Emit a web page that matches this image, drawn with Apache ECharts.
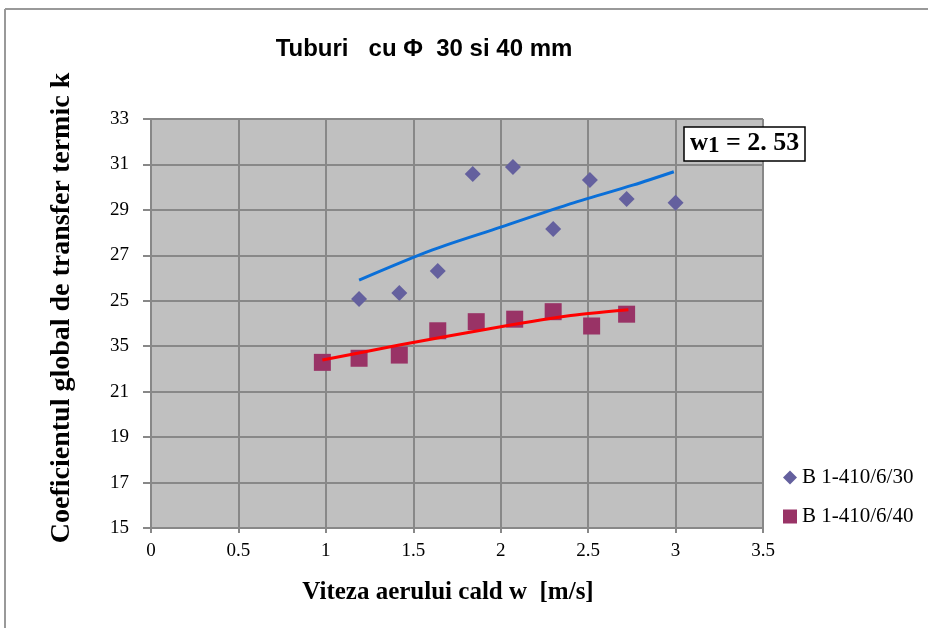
<!DOCTYPE html>
<html>
<head>
<meta charset="utf-8">
<script src="https://cdn.jsdelivr.net/npm/echarts@6/dist/echarts.min.js"></script>
<style>
html,body{margin:0;padding:0;background:#fff;}
#c{width:928px;height:628px;}
</style>
</head>
<body>
<div id="c"></div>
<script>
// Series B 1-410/6/30 (diamonds)
const s30x = [1.19, 1.42, 1.64, 1.84, 2.07, 2.30, 2.51, 2.72, 3.00];
const s30y = [25.08, 25.34, 26.31, 30.58, 30.89, 28.16, 30.32, 29.48, 29.31];
// Series B 1-410/6/40 (squares)
const s40x = [0.98, 1.19, 1.42, 1.64, 1.86, 2.08, 2.30, 2.52, 2.72];
const s40y = [22.29, 22.47, 22.61, 23.68, 24.08, 24.19, 24.52, 23.89, 24.41];
// Trend lines
const trend30x = [1.19, 1.61, 2.00, 2.38, 2.76, 2.99];
const trend30y = [25.91, 27.24, 28.24, 29.22, 30.10, 30.68];
const trend40x = [0.98, 1.42, 2.00, 2.38, 2.73];
const trend40y = [22.39, 23.05, 23.86, 24.33, 24.60];
// Tick labels
const yTickValues = [15, 17, 19, 21, 23, 25, 27, 29, 31, 33];
const yTickLabels = ['15', '17', '19', '21', '35', '25', '27', '29', '31', '33'];
const seriesNames = ['B 1-410/6/30', 'B 1-410/6/40'];
const titleText = 'Tuburi   cu Φ  30 si 40 mm';
const xName = 'Viteza aerului cald w  [m/s]';
const yName = 'Coeficientul global de transfer termic k';

const zip = (a, b) => a.map((v, i) => [v, b[i]]);
const chart = echarts.init(document.getElementById('c'));
const serif = '"Liberation Serif", "Times New Roman", serif';

chart.setOption({
  animation: false,
  backgroundColor: '#fff',
  title: [{
    text: titleText,
    left: 419, top: 32, textAlign: 'center',
    textStyle: { fontFamily: '"Liberation Sans", Arial, sans-serif', fontWeight: 'bold', fontSize: 24, color: '#000' }
  }, {
    text: '{w|w}{s|1}{t| = 2. 53}',
    left: 684, top: 125,
    backgroundColor: '#fff', borderColor: '#000', borderWidth: 1.5,
    padding: [4, 6, 3, 6],
    textStyle: {
      rich: {
        w: { fontFamily: serif, fontWeight: 'bold', fontSize: 25, color: '#000' },
        s: { fontFamily: serif, fontSize: 23, color: '#000', padding: [6, 0, 0, 0] },
        t: { fontFamily: serif, fontSize: 26, color: '#000' }
      }
    }
  }],
  legend: {
    orient: 'vertical', left: 778, top: 462, itemGap: 18,
    itemWidth: 14, itemHeight: 14,
    data: [{ name: seriesNames[0], icon: 'diamond' }, { name: seriesNames[1], icon: 'rect' }],
    textStyle: { fontFamily: serif, fontSize: 21, color: '#000' }
  },
  grid: { left: 151, top: 119, right: 165, bottom: 100, show: true, backgroundColor: '#c0c0c0', borderWidth: 0 },
  xAxis: {
    type: 'value', min: 0, max: 3.5, interval: 0.5,
    axisLine: { show: true, lineStyle: { color: '#888', width: 2 } },
    axisTick: { show: true, length: 5, lineStyle: { color: '#888', width: 2 } },
    axisLabel: { fontFamily: serif, fontSize: 19, color: '#000', margin: 14 },
    splitLine: { show: true, lineStyle: { color: '#888', width: 2 } }
  },
  yAxis: {
    type: 'value', min: 15, max: 33, interval: 2,
    axisLine: { show: true, lineStyle: { color: '#888', width: 2 } },
    axisTick: { show: true, length: 8, lineStyle: { color: '#888', width: 2 } },
    axisLabel: {
      fontFamily: serif, fontSize: 19, color: '#000', margin: 22,
      formatter: v => { const i = yTickValues.indexOf(Math.round(v)); return i >= 0 ? yTickLabels[i] : ''; }
    },
    splitLine: { show: true, lineStyle: { color: '#888', width: 2 } }
  },
  graphic: [
    { type: 'line', shape: { x1: 5, y1: 9, x2: 928, y2: 9 }, style: { stroke: '#999', lineWidth: 2 } },
    { type: 'line', shape: { x1: 5, y1: 9, x2: 5, y2: 628 }, style: { stroke: '#999', lineWidth: 2 } },
    { type: 'text', x: 448, y: 593, style: { text: xName, font: 'bold 25px ' + serif, fill: '#000', textAlign: 'center', textVerticalAlign: 'middle' } },
    { type: 'text', x: 62, y: 308, rotation: Math.PI / 2, style: { text: yName, font: 'bold 28px ' + serif, fill: '#000', textAlign: 'center', textVerticalAlign: 'middle' } }
  ],
  series: [
    { name: seriesNames[0], type: 'scatter', symbol: 'diamond', symbolSize: 16, itemStyle: { color: '#64609e', opacity: 1 }, data: zip(s30x, s30y), z: 3 },
    { name: seriesNames[1], type: 'scatter', symbol: 'rect', symbolSize: 17, itemStyle: { color: '#993366', opacity: 1 }, data: zip(s40x, s40y), z: 3 },
    { name: 'trend30', type: 'line', showSymbol: false, smooth: 0.3, lineStyle: { color: '#0a6fd8', width: 3 }, data: zip(trend30x, trend30y), z: 4 },
    { name: 'trend40', type: 'line', showSymbol: false, smooth: 0.2, lineStyle: { color: '#ff0000', width: 3 }, data: zip(trend40x, trend40y), z: 4 }
  ]
});
</script>
</body>
</html>
